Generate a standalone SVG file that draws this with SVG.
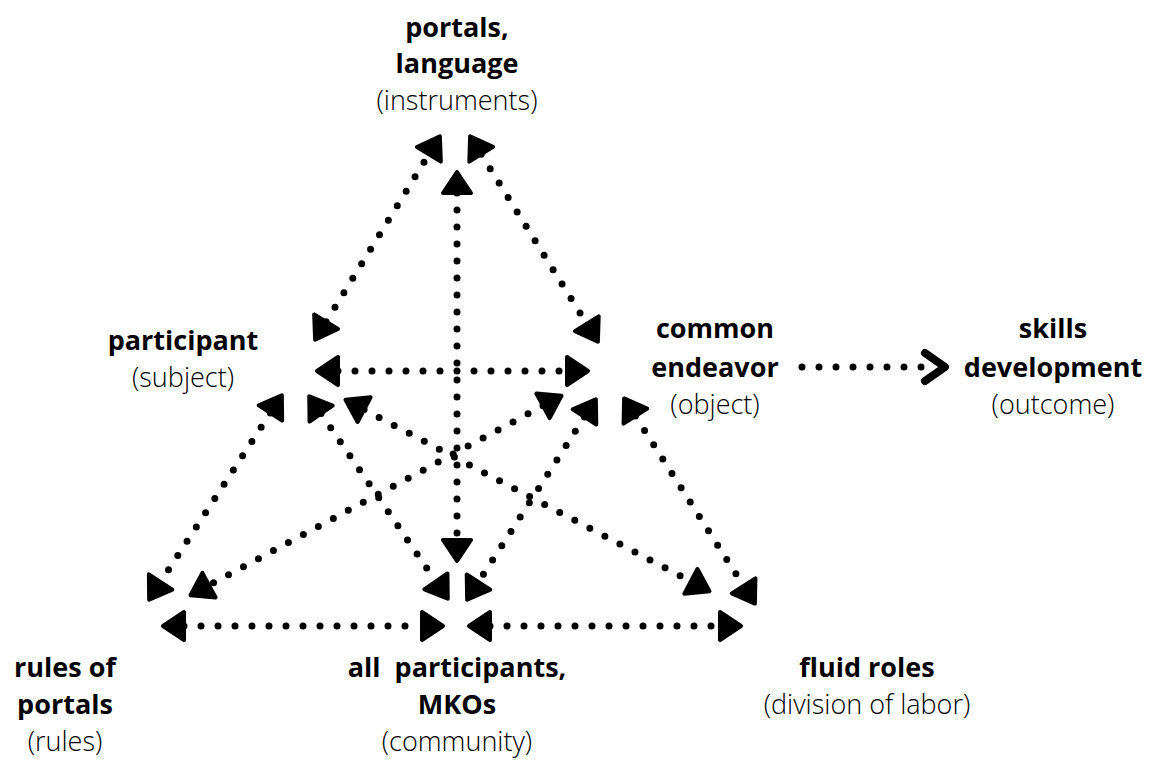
<svg xmlns="http://www.w3.org/2000/svg" width="1162" height="759" viewBox="0 0 1162 759">
<style>
.t{font-family:"Open Sans","Liberation Sans",sans-serif;font-size:27px;fill:#000;text-anchor:middle}
.b{font-weight:700}
.l{font-weight:300}
.c line{stroke:#000;stroke-width:7;stroke-linecap:round;stroke-dasharray:0 17;fill:none}
</style>
<defs>
<marker id="ah" markerUnits="userSpaceOnUse" markerWidth="40" markerHeight="40" viewBox="-5 -20 35 40" refX="0" refY="0" orient="auto-start-reverse" overflow="visible">
<path d="M0,-14 L21,0 L0,14 Z" fill="#000" stroke="#000" stroke-width="4" stroke-linejoin="round"/>
</marker>
<marker id="oa" markerUnits="userSpaceOnUse" markerWidth="40" markerHeight="40" viewBox="-5 -20 35 40" refX="0" refY="0" orient="auto" overflow="visible">
<path d="M0,-14 L20,0 L0,14" fill="none" stroke="#000" stroke-width="8" stroke-linejoin="round" stroke-linecap="round"/>
</marker>
</defs>
<rect width="1162" height="759" fill="#fff"/>
<g id="connectors" class="c">
<line x1="326.1" y1="321.7" x2="428.9" y2="154.3" marker-start="url(#ah)" marker-end="url(#ah)"/>
<line x1="481.2" y1="154.2" x2="586.8" y2="323.8" marker-start="url(#ah)" marker-end="url(#ah)"/>
<line x1="457" y1="193" x2="457" y2="540" marker-start="url(#ah)" marker-end="url(#ah)"/>
<line x1="338" y1="371" x2="567" y2="371" marker-start="url(#ah)" marker-end="url(#ah)"/>
<line x1="270.4" y1="413" x2="160.6" y2="582" marker-start="url(#ah)" marker-end="url(#ah)"/>
<line x1="543" y1="405.8" x2="209" y2="585.2" marker-start="url(#ah)" marker-end="url(#ah)"/>
<line x1="321.1" y1="413.6" x2="435.9" y2="581.4" marker-start="url(#ah)" marker-end="url(#ah)"/>
<line x1="584.5" y1="417" x2="478.5" y2="582" marker-start="url(#ah)" marker-end="url(#ah)"/>
<line x1="364.1" y1="409.6" x2="690.9" y2="581.4" marker-start="url(#ah)" marker-end="url(#ah)"/>
<line x1="635.4" y1="416.1" x2="743.6" y2="585.9" marker-start="url(#ah)" marker-end="url(#ah)"/>
<line x1="184" y1="626" x2="422" y2="626" marker-start="url(#ah)" marker-end="url(#ah)"/>
<line x1="490" y1="626" x2="720" y2="626" marker-start="url(#ah)" marker-end="url(#ah)"/>
<line x1="802" y1="367" x2="925" y2="367" marker-end="url(#oa)"/>
</g>
<g id="instruments">
<text class="t b" x="457" y="37">portals,</text>
<text class="t b" x="457" y="73">language</text>
<text class="t l" x="457" y="110">(instruments)</text>
</g>
<g id="subject">
<text class="t b" x="183" y="350">participant</text>
<text class="t l" x="183" y="387">(subject)</text>
</g>
<g id="object">
<text class="t b" x="715" y="338">common</text>
<text class="t b" x="715" y="377">endeavor</text>
<text class="t l" x="715" y="414">(object)</text>
</g>
<g id="outcome">
<text class="t b" x="1053" y="338">skills</text>
<text class="t b" x="1053" y="377">development</text>
<text class="t l" x="1053" y="414">(outcome)</text>
</g>
<g id="rules">
<text class="t b" x="65" y="677">rules of</text>
<text class="t b" x="65" y="714">portals</text>
<text class="t l" x="65" y="751">(rules)</text>
</g>
<g id="community">
<text class="t b" x="457" y="677" xml:space="preserve">all  participants,</text>
<text class="t b" x="457" y="714">MKOs</text>
<text class="t l" x="457" y="751">(community)</text>
</g>
<g id="division">
<text class="t b" x="867" y="677">fluid roles</text>
<text class="t l" x="867" y="714">(division of labor)</text>
</g>
</svg>
